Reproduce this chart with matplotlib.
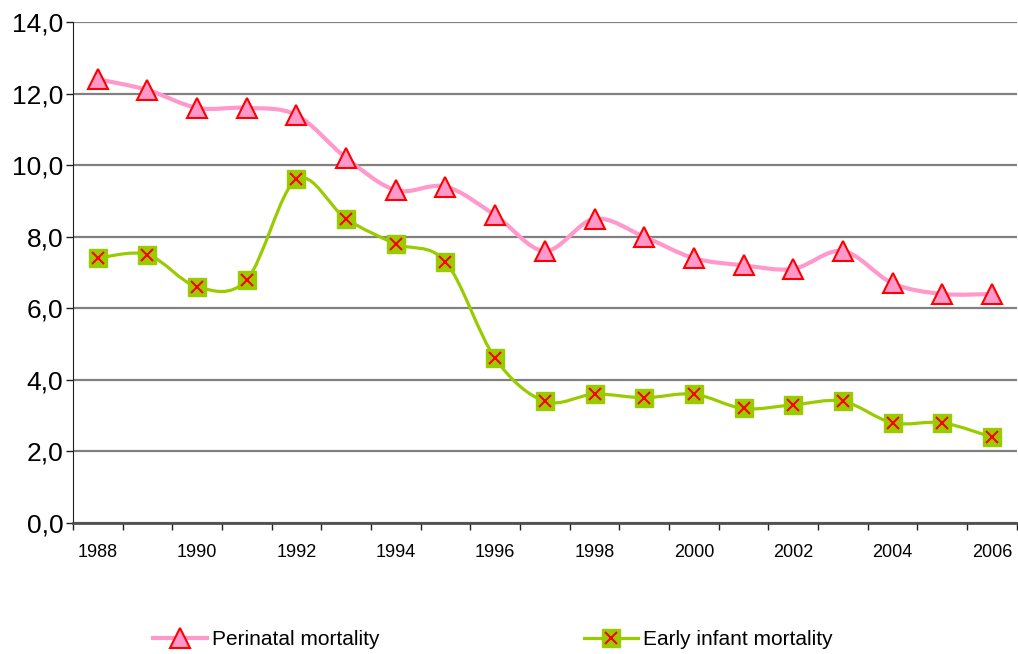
import numpy as np
import matplotlib
matplotlib.use('Agg')
import matplotlib.pyplot as plt
from matplotlib.path import Path
from matplotlib.patches import PathPatch
from matplotlib.ticker import FuncFormatter

plt.rcParams['font.family'] = ['Liberation Sans', 'DejaVu Sans']

years = list(range(1988, 2007))
perinatal = [12.4, 12.1, 11.6, 11.6, 11.4, 10.2, 9.3, 9.4, 8.6, 7.6,
             8.5, 8.0, 7.4, 7.2, 7.1, 7.6, 6.7, 6.4, 6.4]
early_infant = [7.4, 7.5, 6.6, 6.8, 9.6, 8.5, 7.8, 7.3, 4.6, 3.4,
                3.6, 3.5, 3.6, 3.2, 3.3, 3.4, 2.8, 2.8, 2.4]

pink = '#FF99CC'
green = '#99CC00'


def smooth_path(xs, ys):
    # excel-like smoothed line: bezier segments through the points
    pts = np.column_stack([xs, ys]).astype(float)
    ext = np.vstack([pts[0], pts, pts[-1]])
    verts = [tuple(pts[0])]
    codes = [Path.MOVETO]
    for i in range(len(pts) - 1):
        p0, p1, p2, p3 = ext[i], ext[i + 1], ext[i + 2], ext[i + 3]
        c1 = p1 + (p2 - p0) / 6.0
        c2 = p2 - (p3 - p1) / 6.0
        verts += [tuple(c1), tuple(c2), tuple(p2)]
        codes += [Path.CURVE4] * 3
    return Path(verts, codes)


fig = plt.figure(figsize=(10.18, 6.54), dpi=100)
ax = fig.add_axes([0.0717, 0.2003, 0.927, 0.7661])

x = np.arange(len(years))

ax.add_patch(PathPatch(smooth_path(x, perinatal), fill=False,
                       edgecolor=pink, lw=3, zorder=3))
ax.add_patch(PathPatch(smooth_path(x, early_infant), fill=False,
                       edgecolor=green, lw=2.3, zorder=3))

ax.plot(x, perinatal, ls='none', marker='^', ms=14, mfc=pink, mec='red',
        mew=1.5, zorder=4)
ax.plot(x, early_infant, ls='none', marker='s', ms=12.5, mfc=green,
        mec=green, zorder=4)
ax.plot(x, early_infant, ls='none', marker='x', ms=9, mec='red',
        mew=1.5, zorder=5)

ax.set_xlim(-0.5, len(years) - 0.5)
ax.set_ylim(0, 14)
ax.set_yticks(np.arange(0, 15, 2))
ax.yaxis.set_major_formatter(FuncFormatter(lambda v, p: f'{v:.1f}'.replace('.', ',')))
ax.grid(axis='y', color='#808080', lw=1.6)
ax.set_axisbelow(True)

ax.set_xticks(x[::2])
ax.set_xticklabels([str(y) for y in years[::2]], fontsize=13)
ax.set_xticks(np.arange(-0.5, len(years), 1), minor=True)
ax.tick_params(axis='x', which='major', length=0, pad=15)
ax.tick_params(axis='x', which='minor', length=5, width=1, color='#202020')
ax.tick_params(axis='y', length=5, width=1, color='#202020', labelsize=19, pad=2)

for s in ['top', 'right']:
    ax.spines[s].set_visible(False)
ax.spines['left'].set_color('#202020')
ax.spines['bottom'].set_color('#505050')
ax.spines['bottom'].set_linewidth(2)

h1, = ax.plot([], [], color=pink, lw=3, marker='^', ms=14, mfc=pink,
              mec='red', mew=1.5)
h2a, = ax.plot([], [], color=green, lw=2.3, marker='s', ms=12.5,
               mfc=green, mec=green)
h2b, = ax.plot([], [], ls='none', marker='x', ms=9, mec='red', mew=1.5)
fig.legend([h1, (h2a, h2b)], ['Perinatal mortality', 'Early infant mortality'],
           loc='center', bbox_to_anchor=(0.484, 0.022), ncol=2, frameon=False,
           fontsize=15, handlelength=2.6, handletextpad=0.25,
           columnspacing=9.8)

fig.savefig('out.png', dpi=100)
